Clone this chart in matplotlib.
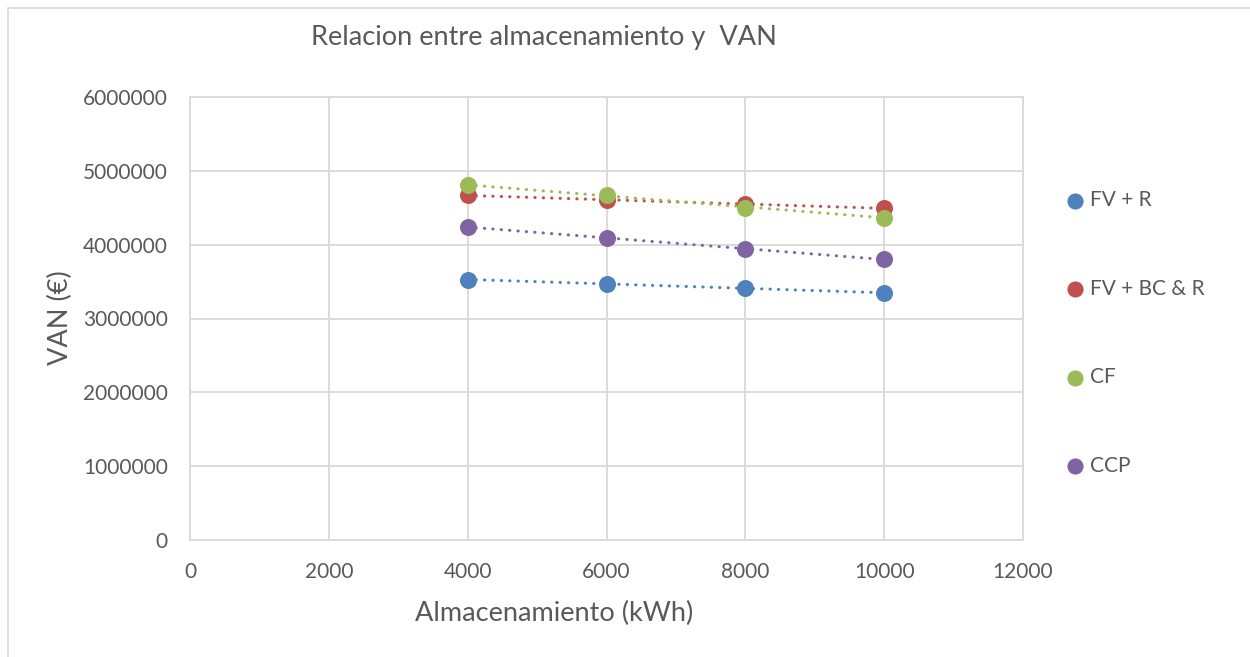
import matplotlib.pyplot as plt
import numpy as np
from matplotlib.patches import Rectangle

plt.rcParams["font.family"] = ["Lato", "DejaVu Sans"]

# Datos: almacenamiento (kWh) y VAN (€) para cada configuración
almacenamiento = [4000, 6000, 8000, 10000]
van_fv_r = [3528000, 3469000, 3410000, 3347000]
van_fv_bc_r = [4670000, 4600000, 4557000, 4490000]
van_cf = [4807000, 4670000, 4503000, 4367000]
van_ccp = [4240000, 4090000, 3945000, 3800000]

series = [
    ("FV + R", van_fv_r, "#4f81bd"),
    ("FV + BC & R", van_fv_bc_r, "#c0504d"),
    ("CF", van_cf, "#9bbb59"),
    ("CCP", van_ccp, "#8064a2"),
]

texto = "#595959"
rejilla = "#d9d9d9"

W, H = 1250, 657
fig = plt.figure(figsize=(W / 100, H / 100), dpi=100)
ax = fig.add_axes([190 / W, 1 - 540 / H, (1023 - 190) / W, (540 - 97) / H])

x = np.array(almacenamiento, dtype=float)
for nombre, valores, color in series:
    y = np.array(valores, dtype=float)
    # línea de tendencia lineal (punteada)
    m, b = np.polyfit(x, y, 1)
    ax.plot(x, m * x + b, color=color, lw=2.2, linestyle=(0, (0.1, 2.65)),
            dash_capstyle="round", zorder=2)
    ax.scatter(x, y, s=150, color=color, label=nombre, zorder=3, linewidths=0)

ax.set_xlim(0, 12000)
ax.set_ylim(0, 6000000)
ax.set_xticks(range(0, 12001, 2000))
ax.set_yticks(range(0, 6000001, 1000000))
ax.set_xticklabels([str(v) for v in range(0, 12001, 2000)])
ax.set_yticklabels([str(v) for v in range(0, 6000001, 1000000)])
ax.tick_params(axis="both", length=0, labelsize=15, colors=texto)
ax.tick_params(axis="x", pad=16)
ax.tick_params(axis="y", pad=16)
ax.grid(True, color=rejilla, lw=1.3)
ax.set_axisbelow(True)
for lado in ax.spines.values():
    lado.set_color(rejilla)
    lado.set_linewidth(1.3)

fig.text(544 / W, 1 - 37 / H, "Relacion entre almacenamiento y  VAN",
         ha="center", va="center", fontsize=19.5, color=texto)
fig.text(554 / W, 1 - 613 / H, "Almacenamiento (kWh)",
         ha="center", va="center", fontsize=19.5, color=texto)
fig.text(60 / W, 1 - 318 / H, "VAN (€)", rotation=90,
         ha="center", va="center", fontsize=19.5, color=texto)

leg = fig.legend(loc="center left", bbox_to_anchor=(1065 / W, 1 - 333 / H),
                 frameon=False, fontsize=15, handlelength=1.0,
                 handletextpad=0.2, labelspacing=3.28, borderpad=0,
                 borderaxespad=0, markerscale=0.95)
for t in leg.get_texts():
    t.set_color(texto)

# marco del gráfico
fig.patches.append(Rectangle((8 / W, -0.05), 1.1, 1 - 8 / H + 0.05,
                             transform=fig.transFigure, fill=False,
                             edgecolor="#d9d9d9", lw=1.2))

fig.savefig("out.png", dpi=100)
